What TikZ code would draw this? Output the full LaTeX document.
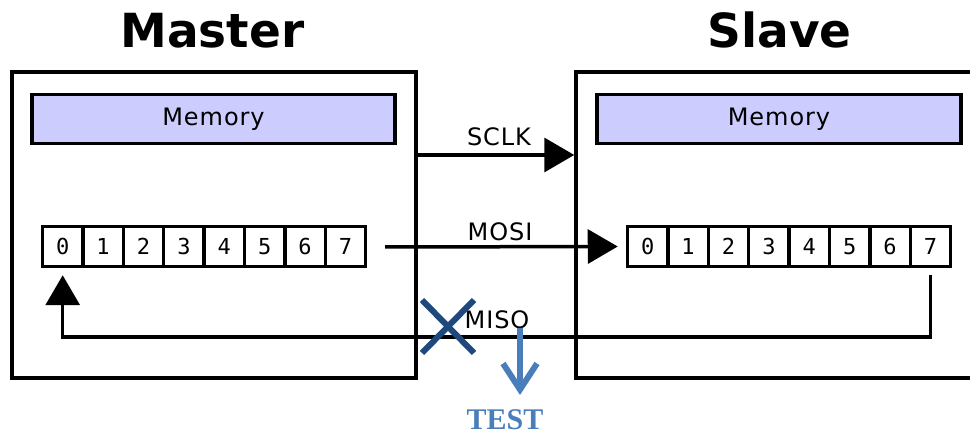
\documentclass[tikz,border=0pt]{standalone}
\usepackage{fontspec}
\setmainfont{DejaVu Sans}
\newfontfamily\lblfont[LetterSpace=4]{DejaVu Sans}
\newfontfamily\digitfont{DejaVu Sans Mono}
\newfontfamily\testfont{Liberation Serif}
\usetikzlibrary{arrows.meta}
\definecolor{memfill}{RGB}{204,204,255}
\definecolor{xblue}{RGB}{31,73,125}
\definecolor{tblue}{RGB}{74,126,187}
\tikzset{
  outerbox/.style={draw=black, line width=3.5pt, minimum width=404pt, minimum height=306pt, inner sep=0pt},
  membox/.style={draw=black, fill=memfill, line width=3.5pt, minimum width=363pt, minimum height=49pt, inner sep=0pt, font=\lblfont\fontsize{24}{28}\selectfont},
  cell/.style={draw=black, fill=white, line width=3.5pt, minimum width=40.4pt, minimum height=40pt, inner sep=0pt, font=\digitfont\fontsize{22}{26}\selectfont},
  titlelbl/.style={font=\bfseries\fontsize{47}{56}\selectfont, inner sep=0pt},
  lbl/.style={font=\lblfont\fontsize{24}{28}\selectfont, inner sep=0pt},
  conn/.style={draw=black, line width=3.5pt, -{Triangle[length=30pt,width=34pt]}},
  xmarkline/.style={draw=xblue, line width=6pt},
  testarr/.style={draw=tblue, line width=6pt, -{Straight Barb[length=26pt,width=34pt,line join=miter]}},
  testlbl/.style={font=\testfont\bfseries\fontsize{30}{35}\selectfont, text=tblue, inner sep=0pt}
}
\begin{document}
\begin{tikzpicture}[x=1pt,y=-1pt]
\useasboundingbox (0,0) rectangle (970,435);
\clip (0,0) rectangle (970,435);
% titles
\node[titlelbl, anchor=base] (mtitle) at (212.5,48) {Master};
\node[titlelbl, anchor=base] (stitle) at (779.5,48) {Slave};
% outer boxes
\node[outerbox] (master) at (214,225) {};
\node[outerbox, minimum width=424pt] (slave) at (788,225) {};
% memories
\node[membox] (mmem) at (213.5,119) {Memory};
\node[membox, minimum width=364pt] (smem) at (779,119) {Memory};
% registers
\foreach \i in {0,...,7} {
  \node[cell] (m\i) at ({42.5+40.4*(\i+0.5)},246.5) {\i};
  \node[cell] (s\i) at ({627.5+40.4*(\i+0.5)},246.5) {\i};
}
% coordinates
\coordinate (sclky) at (0,155);
\coordinate (mosistart) at (385,247);
\coordinate (misoy) at (0,337);
% SCLK
\draw[conn] (master.east |- sclky) -- (slave.west |- sclky);
\node[lbl, anchor=base] (sclklbl) at (499,146) {SCLK};
% MOSI
\draw[conn] (mosistart) -- ([xshift=-8pt]s0.west);
\node[lbl, anchor=base] (mosilbl) at (500,241) {MOSI};
% MISO
\draw[conn] ([yshift=-7pt]s7.south) -- (s7.south |- misoy) -| ([yshift=-7pt]m0.south);
\node[lbl, anchor=base] (misolbl) at (497,329) {MISO};
% blue X
\coordinate (xa) at (422,300);
\coordinate (xb) at (474,353);
\coordinate (xc) at (422,353);
\coordinate (xd) at (474,300);
\draw[xmarkline] (xa) -- (xb);
\draw[xmarkline] (xc) -- (xd);
% test arrow
\coordinate (tstart) at (520,328);
\coordinate (tend) at (520,395);
\draw[testarr] (tstart) -- (tend);
\node[testlbl, anchor=base] (test) at (505,430) {TEST};
\end{tikzpicture}
\end{document}
